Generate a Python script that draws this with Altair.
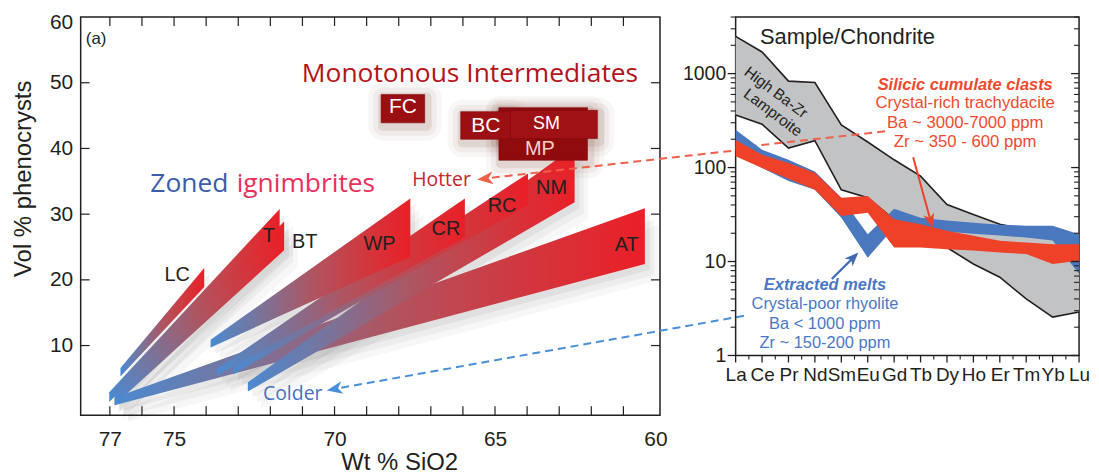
import altair as alt
import pandas as pd

AX_FONT = "Liberation Sans"
ANN_FONT = "Open Sans"
INK = "#231f20"

# ================= panel (a): crystallinity vs SiO2 =================
wedge_names       = ["AT", "NM", "RC", "CR", "WP", "BT", "T", "LC"]
wedge_sio2_blue   = [76.85, 72.70, 73.16, 73.66, 73.86, 76.85, 77.02, 76.67]
wedge_vol_blue_lo = [0.9, 3.0, 5.6, 5.45, 9.7, 1.0, 1.4, 5.3]
wedge_vol_blue_hi = [2.1, 4.4, 6.7, 6.5, 10.9, 2.5, 2.9, 6.6]
wedge_sio2_red    = [60.33, 62.52, 63.97, 65.94, 67.64, 71.57, 71.71, 74.06]
wedge_vol_red_lo  = [22.4, 31.8, 31.4, 26.5, 23.5, 24.5, 26.4, 18.9]
wedge_vol_red_hi  = [30.9, 40.3, 36.2, 32.4, 32.4, 28.9, 30.8, 21.8]
wedge_label_sio2  = [60.9, 63.24, 64.78, 66.53, 68.6, 70.93, 72.05, 74.9]
wedge_label_vol   = [25.3, 34.0, 31.24, 27.7, 25.38, 25.8, 26.7, 20.76]

box_names      = ["MP", "SM", "BC", "FC"]
box_sio2_left  = [64.88, 64.88, 66.07, 68.55]
box_sio2_right = [62.12, 61.81, 64.52, 67.19]
box_vol_bottom = [38.2, 41.5, 41.4, 43.9]
box_vol_top    = [46.2, 45.8, 45.6, 48.2]
box_label_sio2 = [63.6, 63.4, 65.29, 67.87]
box_label_vol  = [39.88, 43.79, 43.48, 46.33]

sio2_ticks = list(range(61, 78))
sio2_labels = [77, 75, 70, 65, 60]
vol_ticks = [10, 20, 30, 40, 50]
vol_labels = [10, 20, 30, 40, 50, 60]

hotter_line_sio2 = [65.1, 57.49]
hotter_line_vol = [35.55, 39.71]
colder_line_sio2 = [69.79, 57.22]
colder_line_vol = [3.58, 14.55]

# ================= panel (b): REE patterns =================
ree = ["La", "Ce", "Pr", "Nd", "Sm", "Eu", "Gd", "Tb", "Dy", "Ho", "Er", "Tm", "Yb", "Lu"]
lamp_upper  = [2490, 1700, 832, 805, 284, 187, 121, 81, 40.5, 31.7, 24.9, 22, 21, 18]
lamp_lower  = [363, 289, 161, 193, 58, 47.7, 28, 19, 14.1, 9.4, 6.8, 4.0, 2.56, 2.9]
melt_upper  = [252, 155, 121, 91, 47.7, 19.5, 36.4, 29.3, 27.4, 25.9, 24.7, 24.1, 24.1, 19.5]
melt_lower  = [153, 99, 72, 58, 29.3, 11.0, 23, 21.9, 20.8, 19.8, 18.9, 18.0, 16.7, 7.4]
clast_upper = [197, 137, 112, 88, 47.7, 49.7, 28.1, 24.9, 21.2, 18.8, 16.6, 15.9, 15.3, 15.3]
clast_lower = [132, 99, 76, 58, 30.5, 33.1, 14.1, 14.1, 13.5, 13.1, 12.5, 12.0, 9.4, 10.2]

log_major = [1, 10, 100, 1000]
log_minor = [2, 3, 4, 5, 6, 7, 8, 9, 20, 30, 40, 50, 60, 70, 80, 90,
             200, 300, 400, 500, 600, 700, 800, 900, 2000, 3000, 4000]

hotter_line_ree = [0.0, 5.716]
hotter_line_norm = [162, 244]

W1, H1 = 582, 400
W2, H2 = 345, 340

xsL = alt.Scale(domain=[59.86, 77.91], reverse=True, nice=False, zero=False)
ysL = alt.Scale(domain=[-0.6, 60], nice=False, zero=False)
xsR = alt.Scale(domain=[0, 13], nice=False, zero=False)
ysR = alt.Scale(type="log", domain=[1, 4000], nice=False)

AXL_X = alt.Axis(
    values=sio2_labels, format="d", title="Wt % SiO2", titleFont=AX_FONT, titleFontSize=24,
    titleFontWeight="normal", titleColor=INK, titleX=320, titleY=55, titleAlign="center",
    titleBaseline="alphabetic", labelFont=AX_FONT, labelFontSize=21, labelColor=INK,
    labelPadding=13, labelFlush=False, labelOverlap=False, ticks=False, domain=False, grid=False)
AXL_Y = alt.Axis(
    values=vol_labels, format="d", title="Vol % phenocrysts", titleFont=AX_FONT, titleFontSize=24,
    titleFontWeight="normal", titleColor=INK, titleX=-50, titleY=162, titleAngle=270,
    titleAlign="center", titleBaseline="alphabetic", labelFont=AX_FONT, labelFontSize=21,
    labelColor=INK, labelPadding=8, labelFlush=True, labelFlushOffset=5, labelOverlap=False,
    ticks=False, domain=False, grid=False)
label_expr = "[" + ",".join(f"'{s}'" for s in ree) + "][datum.value]"
AXR_X = alt.Axis(
    values=list(range(len(ree))), labelExpr=label_expr, title=None, labelFont=AX_FONT, labelFontSize=19,
    labelColor=INK, labelPadding=10, labelFlush=False, labelOverlap=False, labelBound=False,
    ticks=False, domain=False, grid=False)
AXR_Y = alt.Axis(
    values=log_major, format="d", title=None, labelFont=AX_FONT, labelFontSize=19.5, labelColor=INK,
    labelPadding=10, labelFlush=False, labelOverlap=False, ticks=False, domain=False, grid=False)


def XL(f):
    return alt.X(f"{f}:Q", scale=xsL, axis=AXL_X)


def YL(f):
    return alt.Y(f"{f}:Q", scale=ysL, axis=AXL_Y)


def XR(f):
    return alt.X(f"{f}:Q", scale=xsR, axis=AXR_X)


def YR(f):
    return alt.Y(f"{f}:Q", scale=ysR, axis=AXR_Y)


def text_layer(X, Y, xv, yv, tv, font, size, color, align="center", baseline="middle",
               weight="normal", style="normal", angle=0):
    df = pd.DataFrame({"x": xv, "y": yv, "t": tv})
    kw = dict(font=font, fontSize=size, color=color, align=align, baseline=baseline,
              fontWeight=weight, fontStyle=style)
    if angle:
        kw["angle"] = angle
    return alt.Chart(df).mark_text(**kw).encode(x=X("x"), y=Y("y"), text="t:N")


ARROW = "M1,0L-1,-0.8L-0.45,0L-1,0.8Z"

# ---------------- left panel layers ----------------
grad = alt.LinearGradient(
    gradient="linear",
    stops=[alt.GradientStop(color="#4b8ad1", offset=0),
           alt.GradientStop(color="#7a7399", offset=0.25),
           alt.GradientStop(color="#b0545f", offset=0.52),
           alt.GradientStop(color="#d5343b", offset=0.8),
           alt.GradientStop(color="#ea1f27", offset=1)],
    x1=0, x2=1, y1=0, y2=0)

shadow_layers, wedge_layers = [], []
for i, name in enumerate(wedge_names):
    df = pd.DataFrame({"x": [wedge_sio2_blue[i], wedge_sio2_red[i]],
                       "lo": [wedge_vol_blue_lo[i], wedge_vol_red_lo[i]],
                       "hi": [wedge_vol_blue_hi[i], wedge_vol_red_hi[i]]})
    for ox, oy, op in [(-0.15, -0.9, 0.05), (-0.28, -1.7, 0.04), (-0.42, -2.5, 0.03)]:
        sdf = pd.DataFrame({"x": df.x + ox, "lo": df.lo + oy, "hi": df.hi + oy})
        shadow_layers.append(alt.Chart(sdf).mark_area(color="#000000", opacity=op).encode(
            x=XL("x"), y=YL("hi"), y2="lo"))
    wedge_layers.append(alt.Chart(df).mark_area(color=grad).encode(x=XL("x"), y=YL("hi"), y2="lo"))

box_df = pd.DataFrame({"name": box_names, "x1": box_sio2_left, "x2": box_sio2_right,
                       "y1": box_vol_bottom, "y2": box_vol_top})
halo_layers = []
for e, op in [(15, 0.035), (10, 0.06), (5, 0.1)]:
    dx, dy = e / 32.24, e / 6.6
    hdf = pd.DataFrame({"x1": box_df.x1 + dx - 0.06, "x2": box_df.x2 - dx - 0.06,
                        "y1": box_df.y1 - dy - 0.45, "y2": box_df.y2 + dy - 0.45})
    halo_layers.append(alt.Chart(hdf).mark_rect(color="#5e1e0c", opacity=op, cornerRadius=e).encode(
        x=XL("x1"), x2="x2", y=YL("y1"), y2="y2"))

box_layer = alt.Chart(box_df).mark_rect(stroke="#7e0a0c", strokeWidth=0.6).encode(
    x=XL("x1"), x2="x2", y=YL("y1"), y2="y2",
    color=alt.Color("name:N", legend=None, scale=alt.Scale(
        domain=box_names, range=["#900b0e", "#a01116", "#9c0f13", "#9a0f12"])))

box_text = [
    text_layer(XL, YL, [box_label_sio2[0]], [box_label_vol[0]], [box_names[0]], AX_FONT, 20, "#f1d2cd"),
    text_layer(XL, YL, [box_label_sio2[1]], [box_label_vol[1]], [box_names[1]], AX_FONT, 18, "white"),
    text_layer(XL, YL, box_label_sio2[2:], box_label_vol[2:], box_names[2:], AX_FONT, 21, "white"),
]

wedge_text = text_layer(XL, YL, wedge_label_sio2, wedge_label_vol, wedge_names, AX_FONT, 20, INK)

hot_df = pd.DataFrame({"x": hotter_line_sio2, "y": hotter_line_vol})
cold_df = pd.DataFrame({"x": colder_line_sio2, "y": colder_line_vol})
hot_line = alt.Chart(hot_df).mark_line(color="#f0604a", strokeWidth=2, strokeDash=[8, 5]).encode(
    x=XL("x"), y=YL("y"))
cold_line = alt.Chart(cold_df).mark_line(color="#4a90d9", strokeWidth=2, strokeDash=[8, 5]).encode(
    x=XL("x"), y=YL("y"))
hot_head = alt.Chart(pd.DataFrame({"x": [65.31], "y": [35.39]})).mark_point(
    shape=ARROW, size=256, angle=173.6, filled=True, color="#f0604a", opacity=1).encode(x=XL("x"), y=YL("y"))
cold_head = alt.Chart(pd.DataFrame({"x": [70.0], "y": [3.39]})).mark_point(
    shape=ARROW, size=256, angle=169.9, filled=True, color="#4a90d9", opacity=1).encode(x=XL("x"), y=YL("y"))

ann_left = [
    text_layer(XL, YL, [77.75], [56.7], ["(a)"], AX_FONT, 17, INK, align="left"),
    text_layer(XL, YL, [65.78], [50.15], ["Monotonous Intermediates"], ANN_FONT, 26.5, "#b3131b",
               baseline="alphabetic"),
    text_layer(XL, YL, [75.74], [33.38], ["Zoned"], ANN_FONT, 26.5, "#3b5ca8", align="left",
               baseline="alphabetic"),
    text_layer(XL, YL, [73.05], [33.38], ["ignimbrites"], ANN_FONT, 26.5, "#e9305c", align="left",
               baseline="alphabetic"),
    text_layer(XL, YL, [67.58], [34.24], ["Hotter"], ANN_FONT, 19.5, "#c4262d", align="left",
               baseline="alphabetic"),
    text_layer(XL, YL, [72.23], [1.71], ["Colder"], ANN_FONT, 19.5, "#4a6fc0", align="left",
               baseline="alphabetic"),
]

tl = pd.DataFrame({"v": sio2_ticks})
tv = pd.DataFrame({"v": vol_ticks})
ticks_left = [
    alt.Chart(tl).mark_rule(color=INK, strokeWidth=1.2).encode(x=XL("v"), y=alt.value(H1), y2=alt.value(H1 - 9)),
    alt.Chart(tl).mark_rule(color=INK, strokeWidth=1.2).encode(x=XL("v"), y=alt.value(0), y2=alt.value(9)),
    alt.Chart(tv).mark_rule(color=INK, strokeWidth=1.2).encode(y=YL("v"), x=alt.value(0), x2=alt.value(9)),
    alt.Chart(tv).mark_rule(color=INK, strokeWidth=1.2).encode(y=YL("v"), x=alt.value(W1), x2=alt.value(W1 - 9)),
]

left = alt.layer(*shadow_layers, *halo_layers, *wedge_layers, box_layer, *box_text,
                 wedge_text, hot_line, cold_line, hot_head, cold_head, *ann_left, *ticks_left
                 ).properties(width=W1, height=H1)

# ---------------- right panel layers ----------------
ree_idx = list(range(len(ree)))
lamp_df = pd.DataFrame({"x": ree_idx, "up": lamp_upper, "lo": lamp_lower})
melt_df = pd.DataFrame({"x": ree_idx, "up": melt_upper, "lo": melt_lower})
clast_df = pd.DataFrame({"x": ree_idx, "up": clast_upper, "lo": clast_lower})

lamp_area = alt.Chart(lamp_df).mark_area(color="#c1c3c5").encode(x=XR("x"), y=YR("up"), y2="lo")
lamp_up_line = alt.Chart(lamp_df).mark_line(color=INK, strokeWidth=1.6).encode(x=XR("x"), y=YR("up"))
lamp_lo_line = alt.Chart(lamp_df).mark_line(color=INK, strokeWidth=1.6).encode(x=XR("x"), y=YR("lo"))
hot_line_r = alt.Chart(pd.DataFrame({"x": hotter_line_ree, "y": hotter_line_norm})).mark_line(
    color="#f0604a", strokeWidth=2, strokeDash=[8, 5]).encode(x=XR("x"), y=YR("y"))
melt_area = alt.Chart(melt_df).mark_area(color="#4a78be").encode(x=XR("x"), y=YR("up"), y2="lo")
clast_area = alt.Chart(clast_df).mark_area(color="#ee4128").encode(x=XR("x"), y=YR("up"), y2="lo")

red_arrow_line = alt.Chart(pd.DataFrame({"x": [6.72, 7.38], "y": [128.5, 27.1]})).mark_line(
    color="#ef4129", strokeWidth=2).encode(x=XR("x"), y=YR("y"))
red_arrow_head = alt.Chart(pd.DataFrame({"x": [7.38], "y": [27.1]})).mark_point(
    shape=ARROW, size=196, angle=74.7, filled=True, color="#ef4129", opacity=1).encode(x=XR("x"), y=YR("y"))
blue_arrow_line = alt.Chart(pd.DataFrame({"x": [3.64, 4.46], "y": [6.51, 11.05]})).mark_line(
    color="#3e68b4", strokeWidth=2.2).encode(x=XR("x"), y=YR("y"))
blue_arrow_head = alt.Chart(pd.DataFrame({"x": [4.46], "y": [11.05]})).mark_point(
    shape=ARROW, size=196, angle=315, filled=True, color="#3e68b4", opacity=1).encode(x=XR("x"), y=YR("y"))

RED_T = "#ef4a2e"
BLUE_T = "#4a78c4"
ann_right = [
    text_layer(XR, YR, [0.92], [2050], ["Sample/Chondrite"], AX_FONT, 22, INK, align="left",
               baseline="alphabetic"),
    text_layer(XR, YR, [1.53], [631], ["High Ba-Zr"], AX_FONT, 15.5, INK, angle=37),
    text_layer(XR, YR, [1.41], [385], ["Lamproite"], AX_FONT, 15.5, INK, angle=37),
    text_layer(XR, YR, [8.69], [667], ["Silicic cumulate clasts"], AX_FONT, 16.5, RED_T,
               baseline="alphabetic", weight="bold", style="italic"),
    text_layer(XR, YR, [8.69, 8.69, 8.69], [427, 262, 164],
               ["Crystal-rich trachydacite", "Ba ~ 3000-7000 ppm", "Zr ~ 350 - 600 ppm"],
               AX_FONT, 16.8, RED_T, baseline="alphabetic"),
    text_layer(XR, YR, [3.38], [4.95], ["Extracted melts"], AX_FONT, 16.5, BLUE_T,
               baseline="alphabetic", weight="bold", style="italic"),
    text_layer(XR, YR, [3.38, 3.38, 3.38], [3.11, 1.93, 1.21],
               ["Crystal-poor rhyolite", "Ba < 1000 ppm", "Zr ~ 150-200 ppm"],
               AX_FONT, 16.5, BLUE_T, baseline="alphabetic"),
]

tmaj = pd.DataFrame({"v": log_major})
tmin = pd.DataFrame({"v": log_minor})
tree = pd.DataFrame({"v": ree_idx})
thalf = pd.DataFrame({"v": [i + 0.5 for i in ree_idx[:-1]]})
ticks_right = [
    alt.Chart(tmaj).mark_rule(color=INK, strokeWidth=1.3).encode(y=YR("v"), x=alt.value(0), x2=alt.value(-8)),
    alt.Chart(tmin).mark_rule(color=INK, strokeWidth=1.1).encode(y=YR("v"), x=alt.value(0), x2=alt.value(-5)),
    alt.Chart(tmaj).mark_rule(color=INK, strokeWidth=1.3).encode(y=YR("v"), x=alt.value(W2), x2=alt.value(W2 - 8)),
    alt.Chart(tmin).mark_rule(color=INK, strokeWidth=1.1).encode(y=YR("v"), x=alt.value(W2), x2=alt.value(W2 - 5)),
    alt.Chart(tree).mark_rule(color=INK, strokeWidth=1.3).encode(x=XR("v"), y=alt.value(H2), y2=alt.value(H2 + 7)),
    alt.Chart(thalf).mark_rule(color=INK, strokeWidth=1.1).encode(x=XR("v"), y=alt.value(H2), y2=alt.value(H2 + 4)),
]

right = alt.layer(lamp_area, lamp_up_line, lamp_lo_line, hot_line_r, melt_area, clast_area,
                  red_arrow_line, red_arrow_head, blue_arrow_line, blue_arrow_head, *ann_right, *ticks_right
                  ).properties(width=W2, height=H2)

chart = alt.hconcat(left, right, spacing=76, bounds="flush").properties(
    padding={"left": 3, "top": 2, "right": 0, "bottom": 0}
).configure_view(stroke=INK, strokeWidth=1.5)

chart.save("out.html", embed_options={"renderer": "svg", "actions": False})
